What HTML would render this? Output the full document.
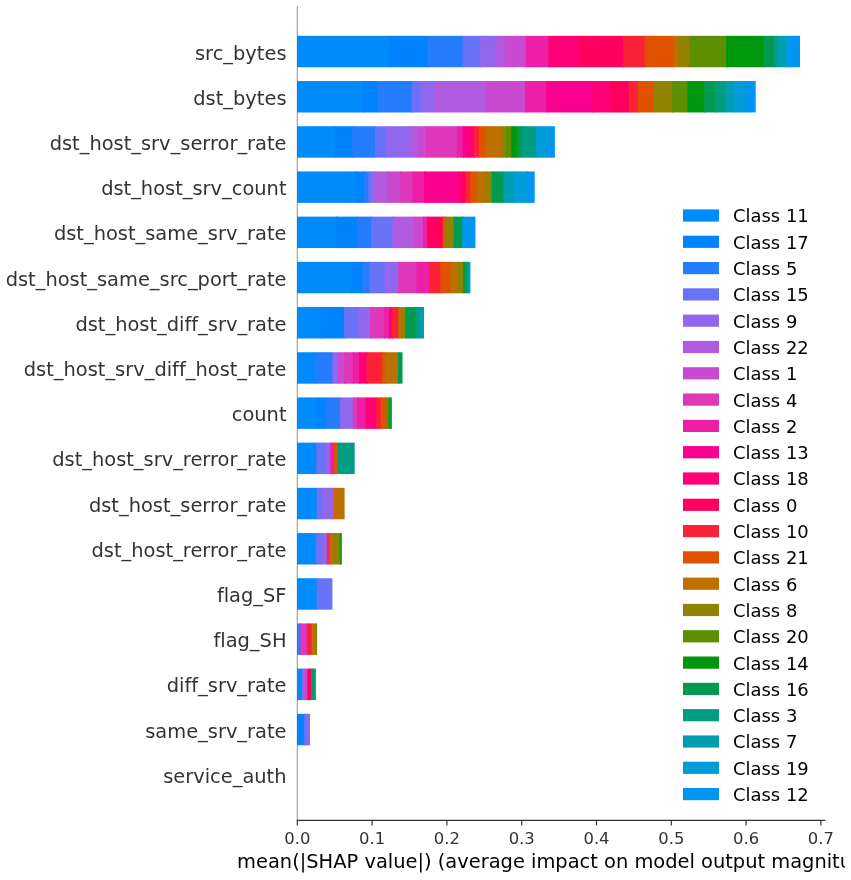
<!DOCTYPE html>
<html lang="en">
<head>
<meta charset="utf-8">
<title>SHAP summary plot</title>
<style>
html,body{margin:0;padding:0;background:#fff;}
body{width:851px;height:880px;overflow:hidden;}
svg{display:block;}
text{font-family:"DejaVu Sans","Liberation Sans",sans-serif;font-variant-ligatures:none;font-feature-settings:"liga" 0,"clig" 0;}
.yl{font-size:19.42px;fill:#333;text-anchor:end;}
.xt{font-size:16.43px;fill:#333;text-anchor:middle;}
.xl{font-size:19.43px;fill:#000;}
.lg{font-size:17.95px;fill:#000;}
</style>
</head>
<body>
<svg width="851" height="880" viewBox="0 0 851 880">
<rect width="851" height="880" fill="#fff"/>

<line x1="297.3" y1="6.05" x2="297.3" y2="820.3" stroke="#8e8e8e" stroke-width="1"/>
<g>
<rect x="297.00" y="35.83" width="92.90" height="31.45" fill="#008bfb"/>
<rect x="388.90" y="35.83" width="39.60" height="31.45" fill="#0084fd"/>
<rect x="427.50" y="35.83" width="36.00" height="31.45" fill="#247dfc"/>
<rect x="462.50" y="35.83" width="18.50" height="31.45" fill="#6973f7"/>
<rect x="480.00" y="35.83" width="17.20" height="31.45" fill="#9168ed"/>
<rect x="496.20" y="35.83" width="9.50" height="31.45" fill="#b05ae0"/>
<rect x="504.70" y="35.83" width="22.10" height="31.45" fill="#c94ad0"/>
<rect x="525.80" y="35.83" width="23.60" height="31.45" fill="#ee1fa7"/>
<rect x="548.40" y="35.83" width="31.30" height="31.45" fill="#ff0077"/>
<rect x="578.70" y="35.83" width="45.30" height="31.45" fill="#ff005e"/>
<rect x="623.00" y="35.83" width="22.60" height="31.45" fill="#fb2237"/>
<rect x="644.60" y="35.83" width="29.50" height="31.45" fill="#e15200"/>
<rect x="673.10" y="35.83" width="6.30" height="31.45" fill="#bd6f00"/>
<rect x="678.40" y="35.83" width="11.90" height="31.45" fill="#918300"/>
<rect x="689.30" y="35.83" width="37.70" height="31.45" fill="#5e8f00"/>
<rect x="726.00" y="35.83" width="38.30" height="31.45" fill="#00970f"/>
<rect x="763.30" y="35.83" width="11.60" height="31.45" fill="#009b4f"/>
<rect x="773.90" y="35.83" width="4.10" height="31.45" fill="#009d82"/>
<rect x="777.00" y="35.83" width="9.90" height="31.45" fill="#009db1"/>
<rect x="785.90" y="35.83" width="3.60" height="31.45" fill="#009bd9"/>
<rect x="788.50" y="35.83" width="11.50" height="31.45" fill="#0095f2"/>
<rect x="297.00" y="81.03" width="66.70" height="31.45" fill="#008bfb"/>
<rect x="362.70" y="81.03" width="15.80" height="31.45" fill="#0084fd"/>
<rect x="377.50" y="81.03" width="35.25" height="31.45" fill="#247dfc"/>
<rect x="411.75" y="81.03" width="9.75" height="31.45" fill="#6973f7"/>
<rect x="420.50" y="81.03" width="15.00" height="31.45" fill="#9168ed"/>
<rect x="434.50" y="81.03" width="51.50" height="31.45" fill="#b05ae0"/>
<rect x="485.00" y="81.03" width="41.10" height="31.45" fill="#c94ad0"/>
<rect x="525.10" y="81.03" width="22.20" height="31.45" fill="#ee1fa7"/>
<rect x="546.30" y="81.03" width="46.70" height="31.45" fill="#fa008f"/>
<rect x="592.00" y="81.03" width="19.30" height="31.45" fill="#ff0077"/>
<rect x="610.30" y="81.03" width="19.40" height="31.45" fill="#ff005e"/>
<rect x="628.70" y="81.03" width="10.10" height="31.45" fill="#fb2237"/>
<rect x="637.80" y="81.03" width="16.50" height="31.45" fill="#e15200"/>
<rect x="653.30" y="81.03" width="19.70" height="31.45" fill="#918300"/>
<rect x="672.00" y="81.03" width="16.50" height="31.45" fill="#5e8f00"/>
<rect x="687.50" y="81.03" width="17.50" height="31.45" fill="#00970f"/>
<rect x="704.00" y="81.03" width="12.30" height="31.45" fill="#009b4f"/>
<rect x="715.30" y="81.03" width="10.80" height="31.45" fill="#009d82"/>
<rect x="725.10" y="81.03" width="10.20" height="31.45" fill="#009db1"/>
<rect x="734.30" y="81.03" width="13.00" height="31.45" fill="#009bd9"/>
<rect x="746.30" y="81.03" width="9.40" height="31.45" fill="#0095f2"/>
<rect x="297.00" y="126.23" width="39.20" height="31.45" fill="#008bfb"/>
<rect x="335.20" y="126.23" width="17.90" height="31.45" fill="#0084fd"/>
<rect x="352.10" y="126.23" width="23.90" height="31.45" fill="#247dfc"/>
<rect x="375.00" y="126.23" width="11.30" height="31.45" fill="#6973f7"/>
<rect x="385.30" y="126.23" width="24.90" height="31.45" fill="#9168ed"/>
<rect x="409.20" y="126.23" width="9.40" height="31.45" fill="#b05ae0"/>
<rect x="417.60" y="126.23" width="9.20" height="31.45" fill="#c94ad0"/>
<rect x="425.80" y="126.23" width="32.30" height="31.45" fill="#de37bc"/>
<rect x="457.10" y="126.23" width="6.70" height="31.45" fill="#ee1fa7"/>
<rect x="462.80" y="126.23" width="6.70" height="31.45" fill="#fa008f"/>
<rect x="468.50" y="126.23" width="6.50" height="31.45" fill="#ff0077"/>
<rect x="474.00" y="126.23" width="6.00" height="31.45" fill="#fb2237"/>
<rect x="479.00" y="126.23" width="7.60" height="31.45" fill="#e15200"/>
<rect x="485.60" y="126.23" width="17.30" height="31.45" fill="#bd6f00"/>
<rect x="501.90" y="126.23" width="5.10" height="31.45" fill="#918300"/>
<rect x="506.00" y="126.23" width="6.30" height="31.45" fill="#5e8f00"/>
<rect x="511.30" y="126.23" width="6.60" height="31.45" fill="#00970f"/>
<rect x="516.90" y="126.23" width="6.10" height="31.45" fill="#009b4f"/>
<rect x="522.00" y="126.23" width="14.80" height="31.45" fill="#009d82"/>
<rect x="535.80" y="126.23" width="15.20" height="31.45" fill="#009bd9"/>
<rect x="550.00" y="126.23" width="4.90" height="31.45" fill="#0095f2"/>
<rect x="297.00" y="171.43" width="59.60" height="31.45" fill="#008bfb"/>
<rect x="355.60" y="171.43" width="9.40" height="31.45" fill="#0084fd"/>
<rect x="364.00" y="171.43" width="5.30" height="31.45" fill="#247dfc"/>
<rect x="368.30" y="171.43" width="3.70" height="31.45" fill="#6973f7"/>
<rect x="371.00" y="171.43" width="4.60" height="31.45" fill="#9168ed"/>
<rect x="374.60" y="171.43" width="13.60" height="31.45" fill="#b05ae0"/>
<rect x="387.20" y="171.43" width="13.80" height="31.45" fill="#c94ad0"/>
<rect x="400.00" y="171.43" width="13.60" height="31.45" fill="#de37bc"/>
<rect x="412.60" y="171.43" width="12.40" height="31.45" fill="#ee1fa7"/>
<rect x="424.00" y="171.43" width="35.20" height="31.45" fill="#fa008f"/>
<rect x="458.20" y="171.43" width="4.80" height="31.45" fill="#ff0077"/>
<rect x="462.00" y="171.43" width="4.30" height="31.45" fill="#ff005e"/>
<rect x="465.30" y="171.43" width="5.90" height="31.45" fill="#fb2237"/>
<rect x="470.20" y="171.43" width="7.30" height="31.45" fill="#e15200"/>
<rect x="476.50" y="171.43" width="10.20" height="31.45" fill="#bd6f00"/>
<rect x="485.70" y="171.43" width="7.10" height="31.45" fill="#918300"/>
<rect x="491.80" y="171.43" width="12.50" height="31.45" fill="#009b4f"/>
<rect x="503.30" y="171.43" width="11.60" height="31.45" fill="#009db1"/>
<rect x="513.90" y="171.43" width="14.10" height="31.45" fill="#009bd9"/>
<rect x="527.00" y="171.43" width="7.70" height="31.45" fill="#0095f2"/>
<rect x="297.00" y="216.62" width="40.00" height="31.45" fill="#008bfb"/>
<rect x="336.00" y="216.62" width="22.00" height="31.45" fill="#0084fd"/>
<rect x="357.00" y="216.62" width="15.20" height="31.45" fill="#247dfc"/>
<rect x="371.20" y="216.62" width="22.30" height="31.45" fill="#6973f7"/>
<rect x="392.50" y="216.62" width="22.20" height="31.45" fill="#b05ae0"/>
<rect x="413.70" y="216.62" width="10.10" height="31.45" fill="#c94ad0"/>
<rect x="422.80" y="216.62" width="5.20" height="31.45" fill="#ee1fa7"/>
<rect x="427.00" y="216.62" width="16.60" height="31.45" fill="#ff005e"/>
<rect x="442.60" y="216.62" width="3.10" height="31.45" fill="#e15200"/>
<rect x="444.70" y="216.62" width="9.90" height="31.45" fill="#918300"/>
<rect x="453.60" y="216.62" width="9.70" height="31.45" fill="#009b4f"/>
<rect x="462.30" y="216.62" width="13.10" height="31.45" fill="#0095f2"/>
<rect x="297.00" y="261.83" width="55.40" height="31.45" fill="#008bfb"/>
<rect x="351.40" y="261.83" width="11.60" height="31.45" fill="#0084fd"/>
<rect x="362.00" y="261.83" width="8.30" height="31.45" fill="#247dfc"/>
<rect x="369.30" y="261.83" width="16.30" height="31.45" fill="#6973f7"/>
<rect x="384.60" y="261.83" width="13.70" height="31.45" fill="#9168ed"/>
<rect x="397.30" y="261.83" width="2.70" height="31.45" fill="#c94ad0"/>
<rect x="399.00" y="261.83" width="18.40" height="31.45" fill="#de37bc"/>
<rect x="416.40" y="261.83" width="13.60" height="31.45" fill="#ee1fa7"/>
<rect x="429.00" y="261.83" width="12.30" height="31.45" fill="#fb2237"/>
<rect x="440.30" y="261.83" width="10.90" height="31.45" fill="#e15200"/>
<rect x="450.20" y="261.83" width="8.10" height="31.45" fill="#bd6f00"/>
<rect x="457.30" y="261.83" width="6.60" height="31.45" fill="#918300"/>
<rect x="462.90" y="261.83" width="5.20" height="31.45" fill="#009b4f"/>
<rect x="467.10" y="261.83" width="3.30" height="31.45" fill="#009db1"/>
<rect x="297.00" y="307.03" width="24.40" height="31.45" fill="#008bfb"/>
<rect x="320.40" y="307.03" width="24.60" height="31.45" fill="#0084fd"/>
<rect x="344.00" y="307.03" width="15.00" height="31.45" fill="#6973f7"/>
<rect x="358.00" y="307.03" width="13.00" height="31.45" fill="#9168ed"/>
<rect x="370.00" y="307.03" width="15.10" height="31.45" fill="#de37bc"/>
<rect x="384.10" y="307.03" width="5.90" height="31.45" fill="#ee1fa7"/>
<rect x="389.00" y="307.03" width="3.90" height="31.45" fill="#ff0077"/>
<rect x="391.90" y="307.03" width="7.30" height="31.45" fill="#fb2237"/>
<rect x="398.20" y="307.03" width="4.80" height="31.45" fill="#bd6f00"/>
<rect x="402.00" y="307.03" width="4.30" height="31.45" fill="#918300"/>
<rect x="405.30" y="307.03" width="11.50" height="31.45" fill="#009b4f"/>
<rect x="415.80" y="307.03" width="5.20" height="31.45" fill="#009d82"/>
<rect x="420.00" y="307.03" width="4.00" height="31.45" fill="#009db1"/>
<rect x="297.00" y="352.23" width="18.70" height="31.45" fill="#008bfb"/>
<rect x="314.70" y="352.23" width="18.70" height="31.45" fill="#247dfc"/>
<rect x="332.40" y="352.23" width="5.90" height="31.45" fill="#9168ed"/>
<rect x="337.30" y="352.23" width="7.70" height="31.45" fill="#c94ad0"/>
<rect x="344.00" y="352.23" width="9.80" height="31.45" fill="#de37bc"/>
<rect x="352.80" y="352.23" width="7.40" height="31.45" fill="#ee1fa7"/>
<rect x="359.20" y="352.23" width="8.30" height="31.45" fill="#ff0077"/>
<rect x="366.50" y="352.23" width="16.20" height="31.45" fill="#fb2237"/>
<rect x="381.70" y="352.23" width="3.90" height="31.45" fill="#e15200"/>
<rect x="384.60" y="352.23" width="14.40" height="31.45" fill="#bd6f00"/>
<rect x="398.00" y="352.23" width="4.50" height="31.45" fill="#009b4f"/>
<rect x="297.00" y="397.43" width="20.20" height="31.45" fill="#008bfb"/>
<rect x="316.20" y="397.43" width="10.10" height="31.45" fill="#0084fd"/>
<rect x="325.30" y="397.43" width="15.80" height="31.45" fill="#247dfc"/>
<rect x="340.10" y="397.43" width="13.70" height="31.45" fill="#9168ed"/>
<rect x="352.80" y="397.43" width="5.20" height="31.45" fill="#de37bc"/>
<rect x="357.00" y="397.43" width="9.50" height="31.45" fill="#ee1fa7"/>
<rect x="365.50" y="397.43" width="11.30" height="31.45" fill="#ff0077"/>
<rect x="375.80" y="397.43" width="6.20" height="31.45" fill="#fb2237"/>
<rect x="381.00" y="397.43" width="6.40" height="31.45" fill="#e15200"/>
<rect x="386.40" y="397.43" width="3.40" height="31.45" fill="#5e8f00"/>
<rect x="388.80" y="397.43" width="3.10" height="31.45" fill="#009b4f"/>
<rect x="297.00" y="442.62" width="20.20" height="31.45" fill="#008bfb"/>
<rect x="316.20" y="442.62" width="10.10" height="31.45" fill="#6973f7"/>
<rect x="325.30" y="442.62" width="6.00" height="31.45" fill="#9168ed"/>
<rect x="330.30" y="442.62" width="4.70" height="31.45" fill="#ee1fa7"/>
<rect x="334.00" y="442.62" width="5.00" height="31.45" fill="#e15200"/>
<rect x="338.00" y="442.62" width="16.70" height="31.45" fill="#009d82"/>
<rect x="297.00" y="487.83" width="20.60" height="31.45" fill="#008bfb"/>
<rect x="316.60" y="487.83" width="6.40" height="31.45" fill="#6973f7"/>
<rect x="322.00" y="487.83" width="10.00" height="31.45" fill="#9168ed"/>
<rect x="331.00" y="487.83" width="3.10" height="31.45" fill="#b05ae0"/>
<rect x="333.10" y="487.83" width="11.50" height="31.45" fill="#bd6f00"/>
<rect x="297.00" y="533.03" width="19.50" height="31.45" fill="#008bfb"/>
<rect x="315.50" y="533.03" width="6.60" height="31.45" fill="#6973f7"/>
<rect x="321.10" y="533.03" width="6.60" height="31.45" fill="#9168ed"/>
<rect x="326.70" y="533.03" width="2.90" height="31.45" fill="#ee1fa7"/>
<rect x="328.60" y="533.03" width="2.90" height="31.45" fill="#e15200"/>
<rect x="330.50" y="533.03" width="3.50" height="31.45" fill="#bd6f00"/>
<rect x="333.00" y="533.03" width="8.10" height="31.45" fill="#918300"/>
<rect x="340.10" y="533.03" width="1.70" height="31.45" fill="#00970f"/>
<rect x="297.00" y="578.23" width="20.80" height="31.45" fill="#008bfb"/>
<rect x="316.80" y="578.23" width="15.60" height="31.45" fill="#6973f7"/>
<rect x="297.00" y="623.43" width="4.30" height="31.45" fill="#247dfc"/>
<rect x="300.30" y="623.43" width="7.60" height="31.45" fill="#de37bc"/>
<rect x="306.90" y="623.43" width="5.70" height="31.45" fill="#fb2237"/>
<rect x="311.60" y="623.43" width="5.40" height="31.45" fill="#bd6f00"/>
<rect x="316.20" y="623.43" width="0.80" height="31.45" fill="#5e8f00"/>
<rect x="297.00" y="668.62" width="6.20" height="31.45" fill="#008bfb"/>
<rect x="302.20" y="668.62" width="2.80" height="31.45" fill="#9168ed"/>
<rect x="304.00" y="668.62" width="4.40" height="31.45" fill="#c94ad0"/>
<rect x="307.40" y="668.62" width="4.70" height="31.45" fill="#ff005e"/>
<rect x="311.10" y="668.62" width="1.70" height="31.45" fill="#e15200"/>
<rect x="311.80" y="668.62" width="2.20" height="31.45" fill="#009b4f"/>
<rect x="313.00" y="668.62" width="2.90" height="31.45" fill="#009d82"/>
<rect x="297.00" y="713.83" width="8.10" height="31.45" fill="#0084fd"/>
<rect x="304.10" y="713.83" width="3.90" height="31.45" fill="#6973f7"/>
<rect x="307.00" y="713.83" width="3.00" height="31.45" fill="#9168ed"/>
</g>
<line x1="296.7" y1="820.3" x2="825.3" y2="820.3" stroke="#333" stroke-width="1.2"/>
<line x1="297.30" y1="820.3" x2="297.30" y2="825.5" stroke="#333" stroke-width="1.2"/>
<text class="xt" x="297.30" y="843.9">0.0</text>
<line x1="372.10" y1="820.3" x2="372.10" y2="825.5" stroke="#333" stroke-width="1.2"/>
<text class="xt" x="372.10" y="843.9">0.1</text>
<line x1="446.90" y1="820.3" x2="446.90" y2="825.5" stroke="#333" stroke-width="1.2"/>
<text class="xt" x="446.90" y="843.9">0.2</text>
<line x1="521.70" y1="820.3" x2="521.70" y2="825.5" stroke="#333" stroke-width="1.2"/>
<text class="xt" x="521.70" y="843.9">0.3</text>
<line x1="596.50" y1="820.3" x2="596.50" y2="825.5" stroke="#333" stroke-width="1.2"/>
<text class="xt" x="596.50" y="843.9">0.4</text>
<line x1="671.30" y1="820.3" x2="671.30" y2="825.5" stroke="#333" stroke-width="1.2"/>
<text class="xt" x="671.30" y="843.9">0.5</text>
<line x1="746.10" y1="820.3" x2="746.10" y2="825.5" stroke="#333" stroke-width="1.2"/>
<text class="xt" x="746.10" y="843.9">0.6</text>
<line x1="820.90" y1="820.3" x2="820.90" y2="825.5" stroke="#333" stroke-width="1.2"/>
<text class="xt" x="820.90" y="843.9">0.7</text>
<text class="yl" x="286.5" y="59.65">src_bytes</text>
<text class="yl" x="286.5" y="104.85">dst_bytes</text>
<text class="yl" x="286.5" y="150.05">dst_host_srv_serror_rate</text>
<text class="yl" x="286.5" y="195.25">dst_host_srv_count</text>
<text class="yl" x="286.5" y="240.45">dst_host_same_srv_rate</text>
<text class="yl" x="286.5" y="285.65">dst_host_same_src_port_rate</text>
<text class="yl" x="286.5" y="330.85">dst_host_diff_srv_rate</text>
<text class="yl" x="286.5" y="376.05">dst_host_srv_diff_host_rate</text>
<text class="yl" x="286.5" y="421.25">count</text>
<text class="yl" x="286.5" y="466.45">dst_host_srv_rerror_rate</text>
<text class="yl" x="286.5" y="511.65">dst_host_serror_rate</text>
<text class="yl" x="286.5" y="556.85">dst_host_rerror_rate</text>
<text class="yl" x="286.5" y="602.05">flag_SF</text>
<text class="yl" x="286.5" y="647.25">flag_SH</text>
<text class="yl" x="286.5" y="692.45">diff_srv_rate</text>
<text class="yl" x="286.5" y="737.65">same_srv_rate</text>
<text class="yl" x="286.5" y="782.85">service_auth</text>
<text class="xl" x="237.1" y="868.0">mean(|SHAP value|) (average impact on model output magnitude)</text>
<rect x="683" y="209.40" width="36" height="12.2" fill="#008bfb"/>
<text class="lg" x="733" y="222.40">Class 11</text>
<rect x="683" y="235.70" width="36" height="12.2" fill="#0084fd"/>
<text class="lg" x="733" y="248.70">Class 17</text>
<rect x="683" y="262.00" width="36" height="12.2" fill="#247dfc"/>
<text class="lg" x="733" y="275.00">Class 5</text>
<rect x="683" y="288.30" width="36" height="12.2" fill="#6973f7"/>
<text class="lg" x="733" y="301.30">Class 15</text>
<rect x="683" y="314.60" width="36" height="12.2" fill="#9168ed"/>
<text class="lg" x="733" y="327.60">Class 9</text>
<rect x="683" y="340.90" width="36" height="12.2" fill="#b05ae0"/>
<text class="lg" x="733" y="353.90">Class 22</text>
<rect x="683" y="367.20" width="36" height="12.2" fill="#c94ad0"/>
<text class="lg" x="733" y="380.20">Class 1</text>
<rect x="683" y="393.50" width="36" height="12.2" fill="#de37bc"/>
<text class="lg" x="733" y="406.50">Class 4</text>
<rect x="683" y="419.80" width="36" height="12.2" fill="#ee1fa7"/>
<text class="lg" x="733" y="432.80">Class 2</text>
<rect x="683" y="446.10" width="36" height="12.2" fill="#fa008f"/>
<text class="lg" x="733" y="459.10">Class 13</text>
<rect x="683" y="472.40" width="36" height="12.2" fill="#ff0077"/>
<text class="lg" x="733" y="485.40">Class 18</text>
<rect x="683" y="498.70" width="36" height="12.2" fill="#ff005e"/>
<text class="lg" x="733" y="511.70">Class 0</text>
<rect x="683" y="525.00" width="36" height="12.2" fill="#fb2237"/>
<text class="lg" x="733" y="538.00">Class 10</text>
<rect x="683" y="551.30" width="36" height="12.2" fill="#e15200"/>
<text class="lg" x="733" y="564.30">Class 21</text>
<rect x="683" y="577.60" width="36" height="12.2" fill="#bd6f00"/>
<text class="lg" x="733" y="590.60">Class 6</text>
<rect x="683" y="603.90" width="36" height="12.2" fill="#918300"/>
<text class="lg" x="733" y="616.90">Class 8</text>
<rect x="683" y="630.20" width="36" height="12.2" fill="#5e8f00"/>
<text class="lg" x="733" y="643.20">Class 20</text>
<rect x="683" y="656.50" width="36" height="12.2" fill="#00970f"/>
<text class="lg" x="733" y="669.50">Class 14</text>
<rect x="683" y="682.80" width="36" height="12.2" fill="#009b4f"/>
<text class="lg" x="733" y="695.80">Class 16</text>
<rect x="683" y="709.10" width="36" height="12.2" fill="#009d82"/>
<text class="lg" x="733" y="722.10">Class 3</text>
<rect x="683" y="735.40" width="36" height="12.2" fill="#009db1"/>
<text class="lg" x="733" y="748.40">Class 7</text>
<rect x="683" y="761.70" width="36" height="12.2" fill="#009bd9"/>
<text class="lg" x="733" y="774.70">Class 19</text>
<rect x="683" y="788.00" width="36" height="12.2" fill="#0095f2"/>
<text class="lg" x="733" y="801.00">Class 12</text>
<rect x="844.8" y="0" width="7" height="880" fill="#fff"/>
</svg>
</body>
</html>
